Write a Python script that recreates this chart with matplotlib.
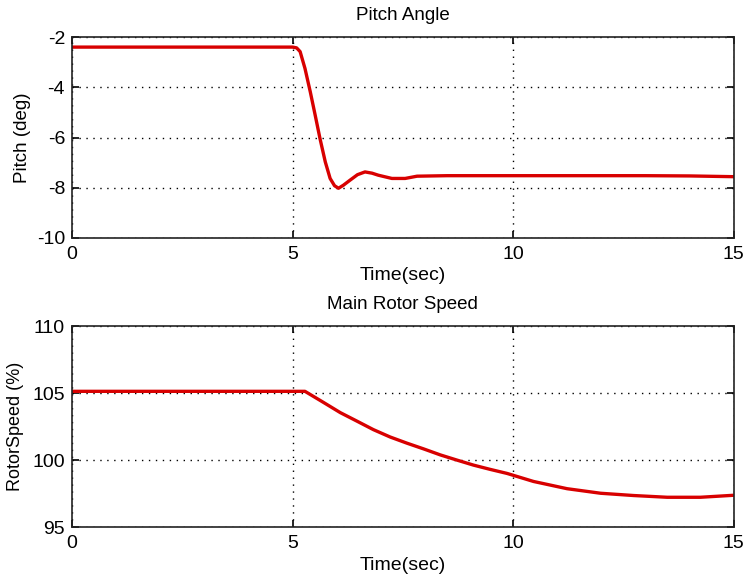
import numpy as np
import matplotlib.pyplot as plt

# Pitch angle (deg) vs time (sec)
t_pitch = [0, 2, 4, 5.0, 5.09, 5.17, 5.28, 5.40, 5.51, 5.62, 5.74, 5.85, 5.95, 6.04, 6.15, 6.30, 6.47, 6.64, 6.80, 6.94, 7.25, 7.55, 7.82, 8.5, 10, 11, 12, 13, 14, 15]
pitch = [-2.4, -2.4, -2.4, -2.4, -2.43, -2.58, -3.25, -4.18, -5.1, -6.04, -6.97, -7.63, -7.92, -8.02, -7.9, -7.7, -7.48, -7.37, -7.42, -7.5, -7.63, -7.63, -7.54, -7.52, -7.52, -7.52, -7.52, -7.52, -7.53, -7.56]

# Main rotor speed (%) vs time (sec)
t_rotor = [0, 2, 4, 5.0, 5.28, 5.32, 5.70, 6.08, 6.46, 6.83, 7.21, 7.59, 7.97, 8.35, 8.72, 9.10, 9.48, 9.86, 10.46, 11.22, 11.98, 12.73, 13.49, 14.24, 15]
rotor = [105.13, 105.13, 105.13, 105.13, 105.13, 105.05, 104.3, 103.54, 102.9, 102.27, 101.72, 101.26, 100.83, 100.38, 100.0, 99.62, 99.3, 99.0, 98.4, 97.86, 97.52, 97.35, 97.22, 97.22, 97.37]

plt.rcParams['font.family'] = ['Liberation Sans', 'DejaVu Sans']
plt.rcParams['axes.unicode_minus'] = False

fig = plt.figure(figsize=(7.47, 5.79), dpi=100)
ax1 = fig.add_axes([0.0964, 0.589, 0.886, 0.347])
ax2 = fig.add_axes([0.0964, 0.0898, 0.886, 0.347])

red = '#d80000'

ax1.plot(t_pitch, pitch, color=red, lw=2.4)
ax1.set_xlim(0, 15)
ax1.set_ylim(-10, -2)
ax1.set_xticks([0, 5, 10, 15])
ax1.set_yticks([-10, -8, -6, -4, -2])
ax1.set_title('Pitch Angle', fontsize=13.5, pad=12)
ax1.set_xlabel('Time(sec)', fontsize=14, labelpad=3)
ax1.set_ylabel('Pitch (deg)', fontsize=13.5, labelpad=4)

ax2.plot(t_rotor, rotor, color=red, lw=2.4)
ax2.set_xlim(0, 15)
ax2.set_ylim(95, 110)
ax2.set_xticks([0, 5, 10, 15])
ax2.set_yticks([95, 100, 105, 110])
ax2.set_title('Main Rotor Speed', fontsize=13.5, pad=12)
ax2.set_xlabel('Time(sec)', fontsize=14, labelpad=3)
ax2.set_ylabel('RotorSpeed (%)', fontsize=13, labelpad=6)

for ax in (ax1, ax2):
    ax.grid(True, color='black', linestyle=(0, (1, 4)), linewidth=1.0)
    ax.tick_params(direction='in', top=True, right=True, labelsize=14, length=5, width=1.2, pad=6)
    ax.tick_params(axis='y', pad=5)
    for s in ax.spines.values():
        s.set_linewidth(1.2)
        s.set_color('#222222')

fig.savefig('out.png', dpi=100)
